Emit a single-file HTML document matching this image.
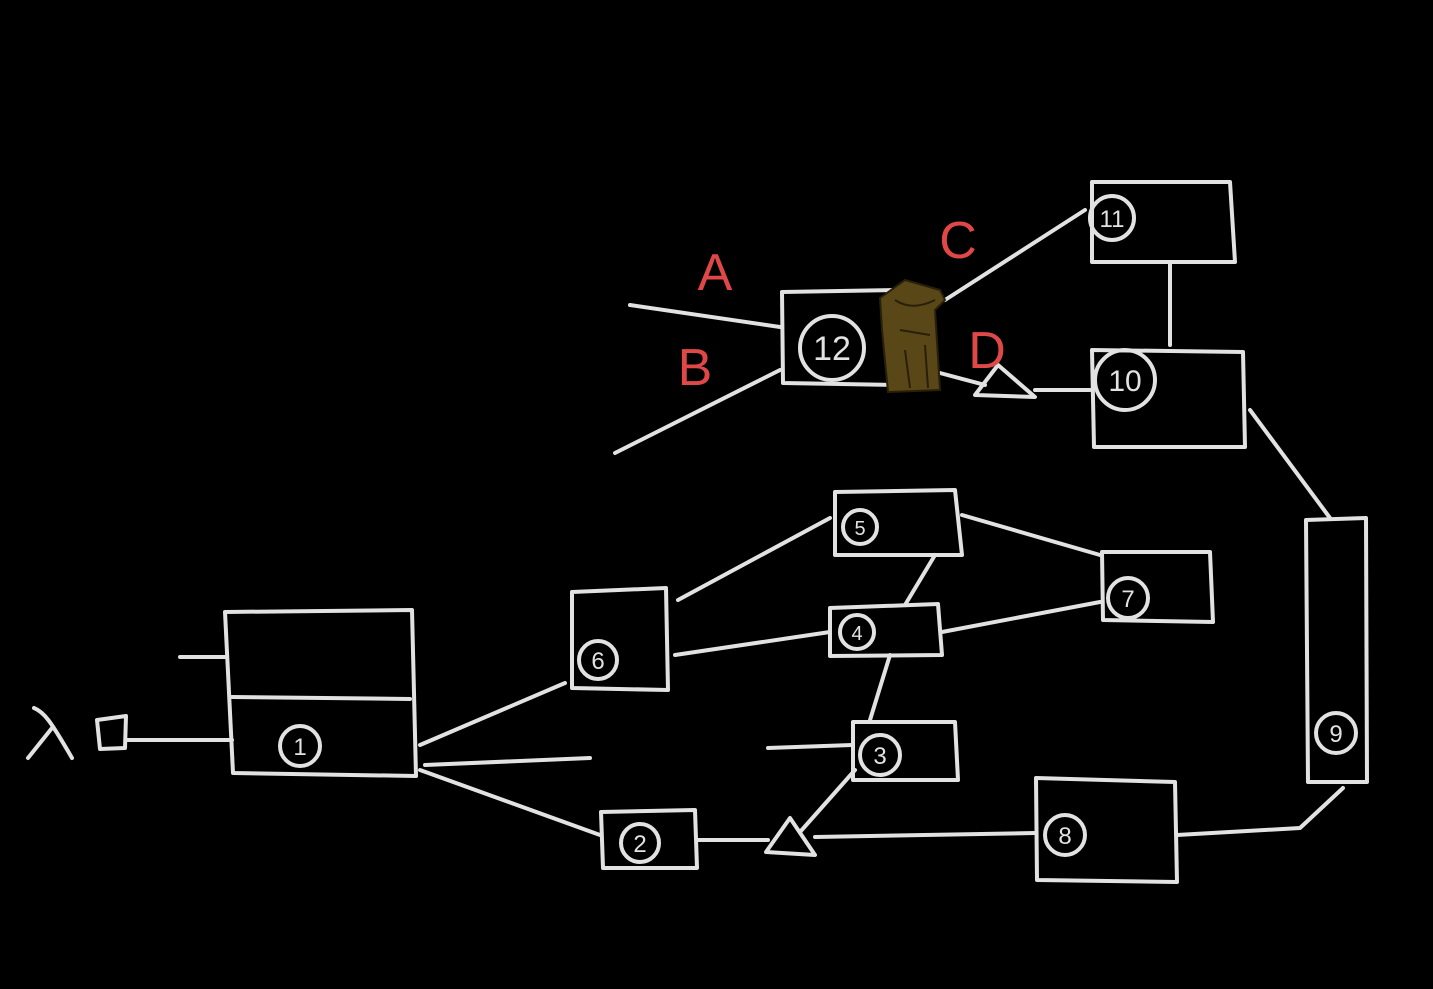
<!DOCTYPE html>
<html><head><meta charset="utf-8"><style>
html,body{margin:0;padding:0;background:#000;width:1433px;height:989px;overflow:hidden}
svg{display:block}
text{font-family:"Liberation Sans",sans-serif}
</style></head><body>
<svg width="1433" height="989" viewBox="0 0 1433 989" xmlns="http://www.w3.org/2000/svg">
<g fill="none" stroke="#e2e2e2" stroke-width="4" stroke-linecap="round" stroke-linejoin="round">
<path d="M225,612 L412,610 L416,776 L233,773 Z"/>
<line x1="232" y1="697" x2="410" y2="699"/>
<line x1="180" y1="657" x2="225" y2="657"/>
<path d="M97,720 L126,716 L125,748 L100,749 Z"/>
<line x1="127" y1="740" x2="232" y2="740"/>
<line x1="420" y1="745" x2="565" y2="683"/>
<line x1="425" y1="765" x2="590" y2="758"/>
<line x1="420" y1="770" x2="600" y2="835"/>
<path d="M572,592 L666,588 L668,690 L572,688 Z"/>
<line x1="678" y1="600" x2="830" y2="518"/>
<line x1="675" y1="655" x2="830" y2="632"/>
<path d="M835,492 L955,490 L962,555 L835,555 Z"/>
<path d="M830,608 L938,604 L942,655 L830,656 Z"/>
<line x1="935" y1="555" x2="905" y2="605"/>
<line x1="962" y1="515" x2="1100" y2="555"/>
<line x1="942" y1="632" x2="1100" y2="602"/>
<path d="M1102,552 L1210,552 L1213,622 L1103,620 Z"/>
<line x1="890" y1="655" x2="870" y2="720"/>
<path d="M853,722 L955,722 L958,780 L853,780 Z"/>
<line x1="768" y1="748" x2="852" y2="745"/>
<path d="M601,812 L695,810 L697,868 L603,868 Z"/>
<line x1="697" y1="840" x2="768" y2="840"/>
<path d="M766,852 L790,818 L815,855 Z"/>
<line x1="800" y1="832" x2="855" y2="770"/>
<line x1="815" y1="837" x2="1035" y2="833"/>
<path d="M1036,778 L1175,782 L1177,882 L1037,880 Z"/>
<path d="M1177,835 L1300,828 L1343,788"/>
<path d="M1306,520 L1366,518 L1367,782 L1308,782 Z"/>
<line x1="1250" y1="410" x2="1330" y2="518"/>
<path d="M1092,350 L1243,352 L1245,447 L1094,447 Z"/>
<path d="M1092,182 L1230,182 L1235,262 L1092,262 Z"/>
<line x1="1170" y1="264" x2="1170" y2="345"/>
<path d="M782,292 L895,290 L900,385 L783,383 Z"/>
<line x1="630" y1="305" x2="780" y2="327"/>
<line x1="615" y1="453" x2="780" y2="370"/>
<line x1="945" y1="300" x2="1085" y2="210"/>
<line x1="940" y1="373" x2="985" y2="385"/>
<path d="M975,395 L998,365 L1035,397 Z"/>
<line x1="1035" y1="390" x2="1090" y2="390"/>
<circle cx="300" cy="746" r="20"/>
<circle cx="598" cy="660" r="19"/>
<circle cx="860" cy="527" r="17"/>
<circle cx="857" cy="632" r="17"/>
<circle cx="1128" cy="598" r="20"/>
<circle cx="880" cy="755" r="20"/>
<circle cx="640" cy="843" r="19"/>
<circle cx="1065" cy="835" r="20"/>
<circle cx="1336" cy="733" r="20"/>
<circle cx="1125" cy="380" r="30"/>
<circle cx="1112" cy="218" r="22"/>
<circle cx="832" cy="348" r="32"/>
<path d="M34,708 C44,712 50,720 72,758 M52,728 L28,758"/>
</g>
<g fill="#e2e2e2" font-size="24" text-anchor="middle">
<text x="300" y="755">1</text>
<text x="598" y="669">6</text>
<text x="860" y="535" font-size="20">5</text>
<text x="857" y="640" font-size="20">4</text>
<text x="1128" y="607">7</text>
<text x="880" y="764">3</text>
<text x="640" y="852">2</text>
<text x="1065" y="844">8</text>
<text x="1336" y="742">9</text>
<text x="1125" y="391" font-size="30">10</text>
<text x="1112" y="227" font-size="24">11</text>
<text x="832" y="360" font-size="34">12</text>
</g>
<g fill="#e04848" font-size="52" text-anchor="middle">
<text x="715" y="290">A</text>
<text x="695" y="385">B</text>
<text x="958" y="258">C</text>
<text x="987" y="368">D</text>
</g>
<g>
<path d="M880,298 L905,280 L940,290 L945,300 L935,310 L940,390 L888,392 L882,330 Z" fill="#5a4718"/>
<path d="M880,298 L905,280 L940,290 L945,300 L935,310 L940,390 L888,392 L882,330 Z" fill="none" stroke="#2a200a" stroke-width="2"/>
<path d="M895,300 C910,310 925,305 935,300 M900,330 L930,335 M905,350 L910,388 M925,345 L928,388" stroke="#2a200a" stroke-width="2" fill="none"/>
</g>
</svg>
</body></html>
